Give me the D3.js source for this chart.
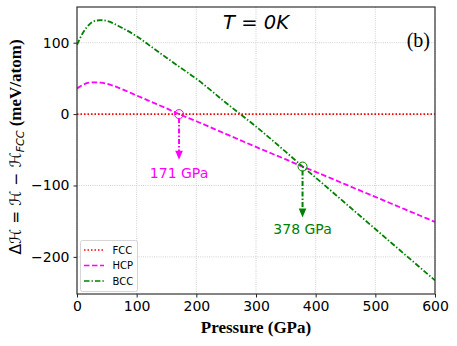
<!DOCTYPE html>
<html>
<head>
<meta charset="utf-8">
<script src="https://cdn.jsdelivr.net/npm/d3@7"></script>
<style>
  body { margin: 0; background: #fff; }
  svg { display: block; }
</style>
</head>
<body>
<div id="chart"></div>
<script>
// pressure (GPa) and enthalpy difference vs FCC (meV/atom)
const pressure = [0, 10, 20, 30, 40, 50, 75, 100, 125, 150, 171, 200, 250, 300, 350, 378, 400, 450, 500, 550, 600];
const hcp = [36, 41, 44, 44.5, 44, 42.5, 35, 26, 17, 8, 0, -10, -28, -46, -63.5, -73.5, -81, -98.5, -116, -133.5, -151];
const bcc = [97, 114, 125, 130.5, 131.5, 130.5, 121, 109, 94, 79, 66.5, 49.5, 15.5, -17.5, -53, -73.5, -89, -125, -161, -197, -233];
const fcc = pressure.map(() => 0);

const xTicks = [0, 100, 200, 300, 400, 500, 600];
const yTicks = [-200, -100, 0, 100];

// transitions: where the arrow starts, where it ends, where the text sits
const transitions = [
  { p: 171, v: 0, tip: -64, textV: -82.5, label: '171 GPa', color: 'magenta' },
  { p: 378, v: -73.5, tip: -145, textV: -161, label: '378 GPa', color: 'green' },
];

const series = [
  { name: 'FCC', values: fcc, color: 'red', dash: '1.5,2' },
  { name: 'HCP', values: hcp, color: 'magenta', dash: '5.5,2.5' },
  { name: 'BCC', values: bcc, color: 'green', dash: '5.5,2,1.4,2' },
];

const width = 457;
const height = 346;
const margin = { left: 77, top: 7, right: 22, bottom: 52 };

const svg = d3.select('#chart').append('svg').attr('width', width).attr('height', height);

const x = d3.scaleLinear().domain([0, 600]).range([margin.left, width - margin.right]);
const y = d3.scaleLinear().domain([-252, 150]).range([height - margin.bottom, margin.top]);

// grid
const grid = svg.append('g');
xTicks.forEach((t) => {
  grid.append('line')
    .attr('x1', x(t)).attr('x2', x(t))
    .attr('y1', y.range()[0]).attr('y2', y.range()[1])
    .attr('stroke', '#c4c4c4').attr('stroke-width', 0.8).attr('stroke-dasharray', '1,1.2');
});
yTicks.forEach((t) => {
  grid.append('line')
    .attr('x1', x.range()[0]).attr('x2', x.range()[1])
    .attr('y1', y(t)).attr('y2', y(t))
    .attr('stroke', '#c4c4c4').attr('stroke-width', 0.8).attr('stroke-dasharray', '1,1.2');
});

const line = (vals) => d3.line()
  .x((d, i) => x(pressure[i]))
  .y((d) => y(d))
  .curve(d3.curveMonotoneX)(vals);

svg.append('defs').append('clipPath').attr('id', 'clip')
  .append('rect')
  .attr('x', x.range()[0]).attr('y', y.range()[1])
  .attr('width', x.range()[1] - x.range()[0]).attr('height', y.range()[0] - y.range()[1]);

svg.append('g').attr('clip-path', 'url(#clip)')
  .selectAll('path')
  .data(series)
  .join('path')
  .attr('d', (d) => line(d.values))
  .attr('fill', 'none')
  .attr('stroke', (d) => d.color)
  .attr('stroke-width', (d) => (d.name === 'FCC' ? 1.6 : 1.8))
  .attr('stroke-dasharray', (d) => d.dash);

// axes
const axisFont = (g) => g
  .style('font-family', '"DejaVu Sans", sans-serif')
  .style('font-size', '14px')
  .call((s) => s.selectAll('text').attr('fill', '#000'))
  .call((s) => s.selectAll('.tick line').attr('stroke', '#222'))
  .call((s) => s.select('.domain').remove());

svg.append('g')
  .attr('transform', `translate(0,${y.range()[0]})`)
  .call(d3.axisBottom(x).tickValues(xTicks).tickSize(3.5).tickPadding(4))
  .call(axisFont);

svg.append('g')
  .attr('transform', `translate(${x.range()[0]},0)`)
  .call(d3.axisLeft(y).tickValues(yTicks).tickSize(3.5).tickPadding(4))
  .call(axisFont);

svg.append('rect')
  .attr('x', x.range()[0]).attr('y', y.range()[1])
  .attr('width', x.range()[1] - x.range()[0]).attr('height', y.range()[0] - y.range()[1])
  .attr('fill', 'none').attr('stroke', '#333').attr('stroke-width', 1.2);

// transition markers and arrows
transitions.forEach((t) => {
  const cx = x(t.p);
  const cy = y(t.v);
  svg.append('circle')
    .attr('cx', cx).attr('cy', cy).attr('r', 4.5)
    .attr('fill', 'none').attr('stroke', t.color).attr('stroke-width', 1);
  const tipY = y(t.tip);
  svg.append('line')
    .attr('x1', cx).attr('x2', cx)
    .attr('y1', cy + 4).attr('y2', tipY - 8)
    .attr('stroke', t.color).attr('stroke-width', 2)
    .attr('stroke-dasharray', '5,2,1.5,2');
  svg.append('path')
    .attr('d', `M${cx - 3.8},${tipY - 9}L${cx + 3.8},${tipY - 9}L${cx},${tipY}Z`)
    .attr('fill', t.color);
  svg.append('text')
    .attr('x', cx).attr('y', y(t.textV) + 5)
    .attr('text-anchor', 'middle')
    .style('font-family', '"DejaVu Sans", sans-serif')
    .style('font-size', '14px')
    .attr('fill', t.color)
    .text(t.label);
});

// T = 0K
const title = svg.append('text')
  .attr('x', x(300)).attr('y', 29)
  .attr('text-anchor', 'middle')
  .style('font-family', '"DejaVu Sans", sans-serif')
  .style('font-size', '19.5px');
title.append('tspan').style('font-style', 'italic').text('T');
title.append('tspan').text(' = ');
title.append('tspan').style('font-style', 'italic').text('0K');

svg.append('text')
  .attr('x', 430).attr('y', 47)
  .attr('text-anchor', 'end')
  .style('font-family', '"Liberation Serif", serif')
  .style('font-size', '20px')
  .text('(b)');

// legend
const legend = svg.append('g');
legend.append('rect')
  .attr('x', 80.5).attr('y', 240.5).attr('width', 57).attr('height', 51).attr('rx', 2)
  .attr('fill', 'rgba(255,255,255,0.85)').attr('stroke', '#ccc').attr('stroke-width', 0.8);
series.forEach((s, i) => {
  const ly = 250 + i * 15.5;
  legend.append('line')
    .attr('x1', 84).attr('x2', 104).attr('y1', ly).attr('y2', ly)
    .attr('stroke', s.color).attr('stroke-width', 1.5).attr('stroke-dasharray', s.dash);
  legend.append('text')
    .attr('x', 112.5).attr('y', ly + 3.6)
    .style('font-family', '"DejaVu Sans", sans-serif')
    .style('font-size', '10px')
    .text(s.name);
});

// axis labels
svg.append('text')
  .attr('x', (x.range()[0] + x.range()[1]) / 2).attr('y', 333)
  .attr('text-anchor', 'middle')
  .style('font-family', '"Liberation Serif", serif')
  .style('font-weight', 'bold')
  .style('font-size', '17px')
  .text('Pressure (GPa)');

const yl = svg.append('text')
  .attr('transform', `translate(21,147) rotate(-90)`)
  .attr('text-anchor', 'middle')
  .style('font-family', '"DejaVu Sans", sans-serif')
  .style('font-size', '15.5px');
yl.append('tspan').text('Δ');
yl.append('tspan').style('font-style', 'italic').text('ℋ');
yl.append('tspan').text(' = ');
yl.append('tspan').style('font-style', 'italic').text('ℋ');
yl.append('tspan').text(' − ');
yl.append('tspan').style('font-style', 'italic').text('ℋ');
yl.append('tspan').style('font-style', 'italic').style('font-size', '11px').attr('dy', 3).text('FCC');
yl.append('tspan').attr('dy', -3)
  .style('font-family', '"Liberation Serif", serif')
  .style('font-weight', 'bold')
  .style('font-size', '17px')
  .text(' (meV/atom)');
</script>
</body>
</html>
